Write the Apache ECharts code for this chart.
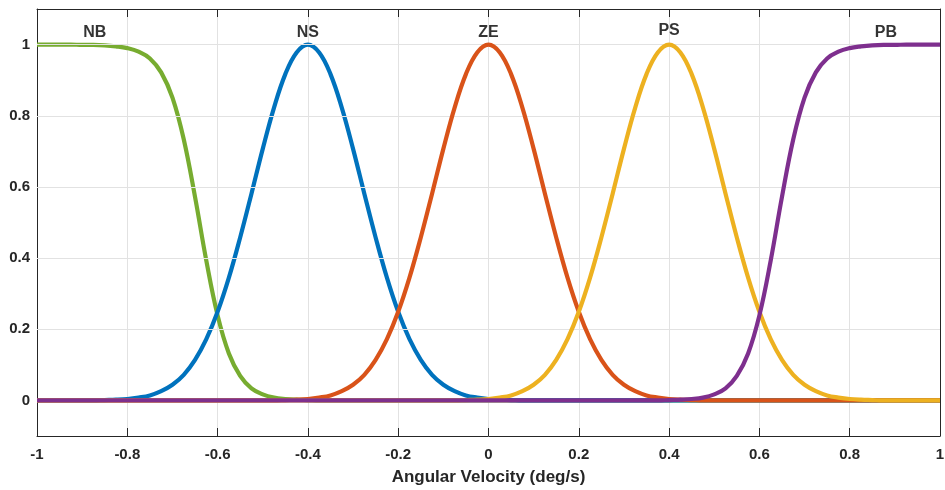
<!DOCTYPE html>
<html>
<head>
<meta charset="utf-8">
<script src="https://cdn.jsdelivr.net/npm/echarts@6/dist/echarts.min.js"></script>
<style>
  html, body { margin: 0; padding: 0; background: #fff; }
  #chart { width: 945px; height: 490px; }
</style>
</head>
<body>
<div id="chart"></div>
<script>
// Membership functions of angular velocity, sampled every 0.025 deg/s from -1 to 1
const step = 0.025;
const xs = Array.from({ length: 81 }, (_, i) => +(-1 + i * step).toFixed(3));

const NB = [
  1, 1, 1, 1, 0.999, 0.999, 0.998, 0.995, 0.99,
  0.98, 0.961, 0.922, 0.851, 0.734, 0.572, 0.393, 0.239, 0.132,
  0.069, 0.034, 0.017, 0.008, 0.004, 0.002, 0.001, 0, 0,
  0, 0, 0, 0, 0, 0, 0, 0, 0,
  0, 0, 0, 0, 0, 0, 0, 0, 0,
  0, 0, 0, 0, 0, 0, 0, 0, 0,
  0, 0, 0, 0, 0, 0, 0, 0, 0,
  0, 0, 0, 0, 0, 0, 0, 0, 0,
  0, 0, 0, 0, 0, 0, 0, 0, 0
];
const NS = [
  0, 0, 0, 0, 0, 0, 0.001, 0.002, 0.004,
  0.008, 0.014, 0.026, 0.044, 0.072, 0.114, 0.172, 0.249, 0.345,
  0.458, 0.581, 0.707, 0.823, 0.917, 0.978, 1, 0.978, 0.917,
  0.823, 0.707, 0.581, 0.458, 0.345, 0.249, 0.172, 0.114, 0.072,
  0.044, 0.026, 0.014, 0.008, 0.004, 0.002, 0.001, 0, 0,
  0, 0, 0, 0, 0, 0, 0, 0, 0,
  0, 0, 0, 0, 0, 0, 0, 0, 0,
  0, 0, 0, 0, 0, 0, 0, 0, 0,
  0, 0, 0, 0, 0, 0, 0, 0, 0
];
const ZE = [
  0, 0, 0, 0, 0, 0, 0, 0, 0,
  0, 0, 0, 0, 0, 0, 0, 0, 0,
  0, 0, 0, 0, 0.001, 0.002, 0.004, 0.008, 0.014,
  0.026, 0.044, 0.072, 0.114, 0.172, 0.249, 0.345, 0.458, 0.581,
  0.707, 0.823, 0.917, 0.978, 1, 0.978, 0.917, 0.823, 0.707,
  0.581, 0.458, 0.345, 0.249, 0.172, 0.114, 0.072, 0.044, 0.026,
  0.014, 0.008, 0.004, 0.002, 0.001, 0, 0, 0, 0,
  0, 0, 0, 0, 0, 0, 0, 0, 0,
  0, 0, 0, 0, 0, 0, 0, 0, 0
];
const PS = [
  0, 0, 0, 0, 0, 0, 0, 0, 0,
  0, 0, 0, 0, 0, 0, 0, 0, 0,
  0, 0, 0, 0, 0, 0, 0, 0, 0,
  0, 0, 0, 0, 0, 0, 0, 0, 0,
  0, 0, 0.001, 0.002, 0.004, 0.008, 0.014, 0.026, 0.044,
  0.072, 0.114, 0.172, 0.249, 0.345, 0.458, 0.581, 0.707, 0.823,
  0.917, 0.978, 1, 0.978, 0.917, 0.823, 0.707, 0.581, 0.458,
  0.345, 0.249, 0.172, 0.114, 0.072, 0.044, 0.026, 0.014, 0.008,
  0.004, 0.002, 0.001, 0, 0, 0, 0, 0, 0
];
const PB = [
  0, 0, 0, 0, 0, 0, 0, 0, 0,
  0, 0, 0, 0, 0, 0, 0, 0, 0,
  0, 0, 0, 0, 0, 0, 0, 0, 0,
  0, 0, 0, 0, 0, 0, 0, 0, 0,
  0, 0, 0, 0, 0, 0, 0, 0, 0,
  0, 0, 0, 0, 0, 0, 0, 0, 0,
  0, 0, 0.001, 0.002, 0.004, 0.008, 0.017, 0.034, 0.069,
  0.132, 0.239, 0.393, 0.572, 0.734, 0.851, 0.922, 0.961, 0.98,
  0.99, 0.995, 0.998, 0.999, 0.999, 1, 1, 1, 1
];

const setNames = ['NB', 'NS', 'ZE', 'PS', 'PB'];
const setValues = [NB, NS, ZE, PS, PB];
const setColors = ['#77AC30', '#0072BD', '#D95319', '#EDB120', '#7E2F8E'];
// where each set's name is written above its curve
const nameAnchors = [[-0.872, 1.033], [-0.4, 1.033], [0, 1.033], [0.4, 1.038], [0.88, 1.033]];

const yTicks = [0, 0.2, 0.4, 0.6, 0.8, 1];

const FONT = "'Liberation Sans', Arial, Helvetica, sans-serif";
const axisColor = '#262626';
const gridColor = '#e2e2e2';

const chart = echarts.init(document.getElementById('chart'), null, { renderer: 'canvas' });

const lineSeries = setNames.map((name, k) => ({
  name,
  type: 'line',
  data: xs.map((x, i) => [x, setValues[k][i]]),
  showSymbol: false,
  smooth: 0.4,
  lineStyle: { color: setColors[k], width: 4.2 },
  itemStyle: { color: setColors[k] },
  z: 3 + k,
  silent: true
}));

// horizontal grid lines at the labelled y ticks
const gridSeries = {
  type: 'line',
  data: [],
  silent: true,
  z: 1,
  markLine: {
    silent: true,
    symbol: ['none', 'none'],
    label: { show: false },
    lineStyle: { color: gridColor, width: 1, type: 'solid' },
    emphasis: { disabled: true },
    data: yTicks.map(v => ({ yAxis: v }))
  }
};

const nameSeries = {
  type: 'scatter',
  data: setNames.map((n, k) => ({ value: nameAnchors[k], name: n })),
  symbolSize: 0,
  silent: true,
  z: 10,
  label: {
    show: true,
    position: 'inside',
    formatter: p => p.name,
    fontFamily: FONT,
    fontWeight: 'bold',
    fontSize: 16,
    color: '#000'
  }
};

const fmt = v => String(+v.toFixed(1));

chart.setOption({
  animation: false,
  backgroundColor: '#fff',
  grid: { left: 37, right: 5, top: 9, bottom: 54, containLabel: false, outerBoundsMode: 'none' },
  xAxis: [
    {
      type: 'value', min: -1, max: 1, interval: 0.2,
      name: 'Angular Velocity (deg/s)',
      nameLocation: 'middle', nameGap: 33,
      nameTextStyle: { fontFamily: FONT, fontWeight: 'bold', fontSize: 17, color: axisColor },
      axisLine: { show: true, onZero: false, lineStyle: { color: axisColor, width: 1 } },
      axisTick: { show: true, inside: true, length: 8, lineStyle: { color: axisColor } },
      axisLabel: { fontFamily: FONT, fontWeight: 'bold', fontSize: 15, color: axisColor, margin: 11, formatter: fmt },
      splitLine: { show: true, lineStyle: { color: gridColor, width: 1 } }
    },
    {
      type: 'value', min: -1, max: 1, interval: 0.2, position: 'top',
      axisLine: { show: true, onZero: false, lineStyle: { color: axisColor, width: 1 } },
      axisTick: { show: true, inside: true, length: 8, lineStyle: { color: axisColor } },
      axisLabel: { show: false },
      splitLine: { show: false }
    }
  ],
  yAxis: [
    {
      type: 'value', min: -0.1, max: 1.1,
      axisLine: { show: true, onZero: false, lineStyle: { color: axisColor, width: 1 } },
      axisTick: { show: true, inside: true, length: 8, customValues: yTicks, lineStyle: { color: axisColor } },
      axisLabel: { fontFamily: FONT, fontWeight: 'bold', fontSize: 15, color: axisColor, margin: 7, customValues: yTicks, formatter: fmt },
      splitLine: { show: false }
    },
    {
      type: 'value', min: -0.1, max: 1.1, position: 'right',
      axisLine: { show: true, onZero: false, lineStyle: { color: axisColor, width: 1 } },
      axisTick: { show: true, inside: true, length: 8, customValues: yTicks, lineStyle: { color: axisColor } },
      axisLabel: { show: false },
      splitLine: { show: false }
    }
  ],
  series: [gridSeries, ...lineSeries, nameSeries]
});
</script>
</body>
</html>
